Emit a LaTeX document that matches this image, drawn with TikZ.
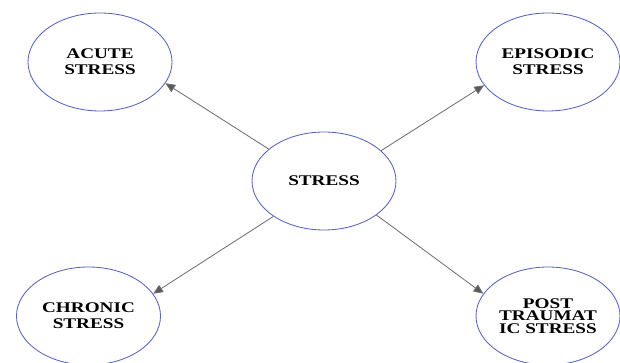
\documentclass[tikz,border=0pt]{standalone}
\usepackage{fontspec}
\setmainfont{Liberation Serif}[FakeStretch=1.3]
\usetikzlibrary{shapes.geometric}
\usetikzlibrary{arrows.meta}

\definecolor{ringblue}{HTML}{5563BC}
\definecolor{linkgray}{HTML}{707070}

\begin{document}
\begin{tikzpicture}[
        kind/.style={ellipse, draw=ringblue, line width=0.6pt, minimum width=3.6cm, minimum height=2.45cm, inner sep=0pt, align=center, font=\fontsize{10.5}{11.5}\selectfont\bfseries},
        link/.style={draw=linkgray, line width=0.6pt, -{Triangle[length=7pt, width=6pt, fill=linkgray!80!black]}}
    ]
        \useasboundingbox (0, 0) rectangle (15.5, 9.075);

        \node[kind, name=stress] at (8.1, 4.55) {STRESS};
        \node[kind, name=acute] at (2.5, 7.525) {ACUTE\\STRESS};
        \node[kind, name=episodic] at (13.7, 7.525) {EPISODIC\\STRESS};
        \node[kind, name=chronic] at (2.2125, 1.175) {CHRONIC\\STRESS};
        \node[kind, name=post] at (13.7, 1.175) {POST\\[-2.5pt]TRAUMAT\\[-2.5pt]IC STRESS};

        \draw[link] (stress.150) -- (acute.-18);
        \draw[link] (stress.28) -- (episodic.200);
        \draw[link] (stress.215) -- (chronic.19);
        \draw[link] (stress.-33) -- (post.161);
    \end{tikzpicture}
\end{document}
